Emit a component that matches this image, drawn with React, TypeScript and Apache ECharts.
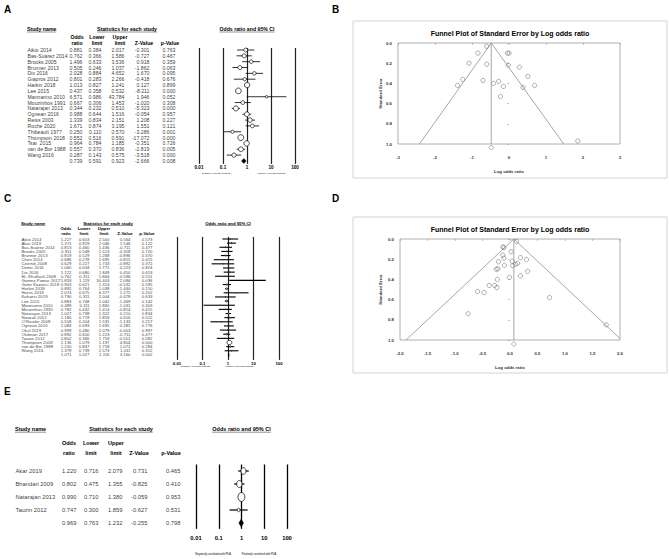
import React, { useEffect, useRef } from "react";
import * as echarts from "echarts";

const FONT = "'Liberation Sans', Arial, Helvetica, sans-serif";

// ---------------- Panel A (forest) ----------------
const studiesA = ["Aikio 2014", "Bas-Suárez 2014", "Brooks 2005", "Brunner 2013", "Dix 2016", "Giapros 2012", "Harkin 2018", "Lee 2015", "Mannarino 2010", "Mouzinhos 1991", "Natarajan 2013", "Ognean 2016", "Reiss 2003", "Roche 2020", "Thibeault 1977", "Thompson 2018", "Tsai  2015", "van de Bor 1988", "Wang 2016"];
const oddsA = [0.881, 0.762, 1.496, 0.505, 2.028, 0.801, 1.013, 0.437, 6.571, 0.667, 0.344, 0.988, 1.339, 1.671, 0.25, 0.552, 0.964, 0.557, 0.287];
const lowerA = [0.384, 0.366, 0.633, 0.246, 0.884, 0.283, 0.827, 0.358, 0.986, 0.306, 0.232, 0.644, 0.834, 0.874, 0.11, 0.516, 0.784, 0.37, 0.143];
const upperA = [2.017, 1.586, 3.536, 1.037, 4.652, 2.266, 1.241, 0.532, 43.784, 1.453, 0.51, 1.516, 2.151, 3.195, 0.57, 0.591, 1.185, 0.836, 0.575];
const zA = [-0.301, -0.727, 0.918, -1.862, 1.67, -0.418, 0.127, -8.211, 1.946, -1.02, -5.323, -0.054, 1.208, 1.551, -3.286, -17.072, -0.351, -2.819, -3.518];
const pA = [0.763, 0.467, 0.359, 0.063, 0.095, 0.676, 0.899, 0.0, 0.052, 0.308, 0.0, 0.957, 0.227, 0.121, 0.001, 0.0, 0.726, 0.005, 0.0];
const weightA = [4, 4.5, 3.5, 4.5, 3.5, 3, 8, 9, 1.8, 4, 7, 6.5, 5.5, 4, 3, 9.5, 8, 6.5, 5];
const summaryA = [0.739, 0.591, 0.923, -2.666, 0.008];

// ---------------- Panel C (forest) ----------------
const studiesC = ["Aikio 2014", "Akar 2019", "Bas-Suárez 2014", "Brooks 2005", "Brunner 2013", "Chen 2014", "Czernik 2008", "Demir 2016", "Dix 2016", "EL-Khuffash 2008", "Gomez-Pomar 2017", "Guler Kazanci 2019", "Harkin 2018", "Harris 2019", "Kahveci 2019", "Lee 2015", "Mannarino 2010", "Mouzinhos 1991", "Natarajan 2013", "Nizarali 2012", "O'Rourke 2008", "Ognean 2016", "Okul 2019", "Oluknan 2017", "Tauzin 2012", "Thompson 2018", "van de Bor 1988", "Wang 2016"];
const oddsC = [1.227, 1.371, 0.813, 0.911, 0.819, 0.686, 0.629, 1.06, 1.122, 0.762, 5.833, 0.903, 0.892, 2.074, 0.79, 0.883, 0.489, 0.782, 1.027, 1.18, 0.558, 1.084, 0.999, 0.892, 0.802, 1.136, 1.22, 1.379];
const lowerC = [0.603, 0.919, 0.46, 0.548, 0.529, 0.278, 0.227, 0.634, 0.68, 0.311, 1.119, 0.621, 0.764, 0.675, 0.311, 0.748, 0.111, 0.432, 0.798, 0.719, 0.204, 0.693, 0.48, 0.65, 0.366, 1.079, 0.847, 0.739];
const upperC = [2.5, 2.046, 1.436, 1.513, 1.268, 1.695, 1.743, 1.771, 1.849, 1.864, 30.403, 1.314, 1.038, 6.377, 2.004, 1.042, 1.86, 1.414, 1.322, 1.859, 1.531, 1.695, 2.079, 1.223, 1.759, 1.197, 1.758, 2.573];
const zC = [0.564, 1.546, -0.711, -0.358, -0.896, -0.815, -0.892, 0.223, 0.45, -0.596, 2.094, -0.532, -1.44, 1.275, -0.478, -1.469, -1.031, -0.814, 0.21, 0.656, -1.133, 0.285, -0.003, -0.711, -0.551, 4.804, 1.071, 1.011];
const pC = [0.573, 0.122, 0.477, 0.72, 0.37, 0.415, 0.372, 0.824, 0.653, 0.551, 0.036, 0.595, 0.15, 0.202, 0.633, 0.142, 0.303, 0.415, 0.834, 0.512, 0.257, 0.776, 0.997, 0.477, 0.582, 0.0, 0.284, 0.312];
const weightC = [1.5, 3, 2, 2.5, 3, 1, 1, 2.5, 2.5, 1, 0.3, 4, 6, 0.5, 1, 7, 0.4, 2, 4, 2.5, 0.8, 3, 1.5, 4.5, 1.2, 40, 4, 1.6];
const summaryC = [1.071, 1.027, 1.116, 3.16, 0.002];

// ---------------- Panel E (forest) ----------------
const studiesE = ["Akar 2019", "Bhandari 2009", "Natarajan 2013", "Tauzin 2012"];
const oddsE = [1.22, 0.802, 0.99, 0.747];
const lowerE = [0.716, 0.475, 0.71, 0.3];
const upperE = [2.079, 1.355, 1.38, 1.859];
const zE = [0.731, -0.825, -0.059, -0.627];
const pE = [0.465, 0.41, 0.953, 0.531];
const weightE = [24, 26, 44, 7];
const summaryE = [0.969, 0.763, 1.232, -0.255, 0.798];

// ---------------- Funnel B ----------------
const funnelBLogOR = [-0.6, -0.84, -1.08, -0.6, -0.04, 0.0, -0.02, 0.28, 0.51, -1.25, -1.39, -0.7, -0.42, -0.28, -0.15, 0.38, 0.69, -0.23, 1.86];
const funnelBSE = [0.033, 0.1, 0.2, 0.21, 0.1, 0.1, 0.22, 0.24, 0.33, 0.36, 0.42, 0.37, 0.4, 0.38, 0.43, 0.44, 0.42, 0.53, 0.97];
const funnelBLine = [[-2.42, 1.0], [-0.48, 0.0], [1.48, 1.0]];
const funnelBCenter = [[-0.48, 0.0], [-0.48, 1.0]];
const funnelBDiamond = [-0.48, 1.035];

// ---------------- Funnel D ----------------
const funnelDLogOR = [0.12, -0.13, -0.11, 0.02, -0.13, -0.11, -0.21, 0.19, 0.3, 0.04, 0.14, 0.1, 0.05, -0.1, -0.22, -0.25, 0.32, -0.01, 0.19, -0.23, -0.38, -0.28, -0.24, -0.59, -0.47, 0.72, -0.76, 1.75];
const funnelDSE = [0.025, 0.078, 0.085, 0.126, 0.16, 0.19, 0.225, 0.185, 0.205, 0.22, 0.24, 0.25, 0.265, 0.26, 0.295, 0.3, 0.32, 0.38, 0.365, 0.4, 0.46, 0.46, 0.48, 0.52, 0.53, 0.58, 0.74, 0.85];
const funnelDLine = [[-1.89, 1.0], [0.07, 0.0], [2.0, 0.985]];
const funnelDCenter = [[0.07, 0.0], [0.07, 1.0]];
const funnelDDiamond = [0.07, 1.04];

const forestTicks = ["0.01", "0.1", "1", "10", "100"];

function measure(text: string, font: string) {
  const ctx = document.createElement("canvas").getContext("2d")!;
  ctx.font = font;
  return ctx.measureText(text).width;
}

function buildOption() {
  const grids: any[] = [];
  const xAxes: any[] = [];
  const yAxes: any[] = [];
  const series: any[] = [];
  const graphics: any[] = [];

  const text = (x: number, y: number, t: string, o: any = {}) => {
    const size = o.size ?? 5;
    const fam = o.family ?? FONT;
    const weight = o.bold ? "bold" : "normal";
    const align = o.align ?? "left";
    graphics.push({
      type: "text", x, y, silent: true,
      style: { text: t, fill: o.color ?? "#000", fontSize: size, fontFamily: fam, fontWeight: weight, textAlign: align, align, textVerticalAlign: "middle", verticalAlign: "middle" },
    });
    if (o.underline) {
      const w = measure(t, `${weight} ${size}px ${fam}`);
      const x0 = align === "center" ? x - w / 2 : align === "right" ? x - w : x;
      const uy = y + size * 0.58;
      graphics.push({ type: "line", silent: true, shape: { x1: x0, y1: uy, x2: x0 + w, y2: uy }, style: { stroke: "#000", lineWidth: Math.max(0.4, size * 0.08) } });
    }
  };

  function addForest(cfg: any) {
    const n = cfg.names.length;
    const top = cfg.rowY0 + cfg.yMin * cfg.rowStep;
    const height = (cfg.yMax - cfg.yMin) * cfg.rowStep;
    const lbl = { fontSize: cfg.fs, fontFamily: cfg.family, color: "#000" };

    const gT = grids.length;
    grids.push({ left: 0, top, width: 669, height, outerBoundsMode: "none" });
    xAxes.push({ gridIndex: gT, type: "value", min: 0, max: 669, show: false });
    yAxes.push({ gridIndex: gT, type: "value", min: cfg.yMin, max: cfg.yMax, inverse: true, show: false });
    const scat = (data: any[], position: string) => ({
      type: "scatter", xAxisIndex: gT, yAxisIndex: gT, silent: true, symbolSize: 1,
      itemStyle: { color: "rgba(0,0,0,0)" }, data,
      label: { show: true, position, distance: 0, formatter: "{b}", ...lbl },
    });
    series.push(scat(cfg.names.map((nm: string, i: number) => ({ name: nm, value: [cfg.nameX, i] })), "right"));
    [cfg.or, cfg.lo, cfg.hi, cfg.z, cfg.p].forEach((arr: number[], ci: number) => {
      const all = [...arr, cfg.sum[ci]];
      series.push(scat(all.map((v, i) => ({ name: v.toFixed(3), value: [cfg.colRight[ci], i] })), "left"));
    });

    const gF = grids.length;
    grids.push({ left: cfg.fLeft, top, width: cfg.fRight - cfg.fLeft, height, outerBoundsMode: "none" });
    xAxes.push({
      gridIndex: gF, type: "log", logBase: 10, min: 0.01, max: 100,
      axisLine: { show: false }, axisTick: { show: false },
      splitLine: { show: true, lineStyle: { color: cfg.vColor, width: cfg.vWidth } },
      axisLabel: {
        show: true, fontSize: cfg.tickFs, fontWeight: "bold", fontFamily: cfg.family, color: "#000", margin: cfg.tickMargin,
        formatter: (v: number) => forestTicks[Math.round(Math.log10(v)) + 2] ?? "",
      },
    });
    yAxes.push({ gridIndex: gF, type: "value", min: cfg.yMin, max: cfg.yMax, inverse: true, show: false });
    const data = cfg.or.map((v: number, i: number) => [v, i, cfg.lo[i], cfg.hi[i], cfg.w[i], 0]);
    data.push([cfg.sum[0], n, cfg.sum[1], cfg.sum[2], 0, 1]);
    series.push({
      type: "custom", xAxisIndex: gF, yAxisIndex: gF, silent: true, clip: false,
      encode: { x: [0, 2, 3], y: 1 }, data,
      renderItem: (params: any, api: any) => {
        const row = api.value(1);
        const c = api.coord([api.value(0), row]);
        const l = api.coord([api.value(2), row]);
        const h = api.coord([api.value(3), row]);
        if (api.value(5)) {
          const dh = cfg.diamondH / 2;
          return { type: "polygon", shape: { points: [[l[0], c[1]], [c[0], c[1] - dh], [h[0], c[1]], [c[0], c[1] + dh]] }, style: { fill: "#000", stroke: "#000", lineWidth: 0.4 } };
        }
        const s = cfg.k * Math.sqrt(api.value(4));
        return {
          type: "group",
          children: [
            { type: "line", shape: { x1: l[0], y1: c[1], x2: h[0], y2: c[1] }, style: { stroke: "#000", lineWidth: cfg.ciWidth } },
            { type: "ellipse", shape: { cx: c[0], cy: c[1], rx: s / 2, ry: (s * cfg.ratio) / 2 }, style: { fill: "#fff", stroke: "#000", lineWidth: 0.7 } },
          ],
        };
      },
    });

    const hf = { size: cfg.hfs ?? cfg.fs, family: cfg.family, bold: true };
    text(cfg.nameX, cfg.headY, "Study name", { ...hf, underline: true });
    text(cfg.statX, cfg.headY, "Statistics for each study", { ...hf, align: "center", underline: true });
    text((cfg.fLeft + cfg.fRight) / 2, cfg.headY, "Odds ratio and 95% CI", { ...hf, align: "center", underline: true });
    const h1 = ["Odds", "Lower", "Upper"];
    const h2 = ["ratio", "limit", "limit", "Z-Value", "p-Value"];
    h1.forEach((t, i) => text(cfg.colHead[i], cfg.h1Y, t, { ...hf, align: "center" }));
    h2.forEach((t, i) => text(cfg.colHead[i], cfg.h2Y, t, { ...hf, align: "center" }));
    text(cfg.negX, cfg.subY, "Negatively correlated with PDA", { size: cfg.subFs, family: cfg.family, align: "center" });
    text(cfg.posX, cfg.subY, "Positively correlated with PDA", { size: cfg.subFs, family: cfg.family, align: "center" });
  }

  function addFunnel(cfg: any) {
    graphics.push({ type: "rect", silent: true, shape: { x: cfg.frame[0], y: cfg.frame[1], width: cfg.frame[2], height: cfg.frame[3] }, style: { fill: "none", stroke: "#d4d4d4", lineWidth: 1 } });
    text(cfg.titleX, cfg.titleY, "Funnel Plot of Standard Error by Log odds ratio", { size: 7, bold: true, align: "center" });
    const g = grids.length;
    grids.push({ left: cfg.left, top: cfg.top, width: cfg.width, height: cfg.height, show: true, borderColor: "#9c9c9c", borderWidth: 0.8, backgroundColor: "transparent", outerBoundsMode: "none" });
    const lab = { fontSize: 4.3, fontWeight: "bold", fontFamily: FONT, color: "#333" };
    xAxes.push({
      gridIndex: g, type: "value", min: cfg.xMin, max: cfg.xMax, interval: cfg.xInt,
      axisLine: { show: false }, axisTick: { show: true, length: 2, lineStyle: { color: "#9c9c9c", width: 0.6 } },
      splitLine: { show: false },
      axisLabel: { ...lab, margin: cfg.xLabelMargin, formatter: (v: number) => (cfg.xDec ? v.toFixed(1) : String(v)) },
      name: "Log odds ratio", nameLocation: "middle", nameGap: cfg.xNameGap, nameTextStyle: lab,
    });
    yAxes.push({
      gridIndex: g, type: "value", min: 0, max: 1, interval: 0.2, inverse: true,
      axisLine: { show: false }, axisTick: { show: true, length: 2, lineStyle: { color: "#9c9c9c", width: 0.6 } },
      splitLine: { show: false },
      axisLabel: { ...lab, margin: cfg.yLabelMargin, formatter: (v: number) => v.toFixed(1) },
      name: "Standard Error", nameLocation: "middle", nameGap: cfg.yNameGap, nameRotate: 90, nameTextStyle: lab,
    });
    const ls = { color: "#8f8f8f", width: 0.8 };
    series.push({ type: "line", xAxisIndex: g, yAxisIndex: g, silent: true, symbol: "none", data: cfg.line, lineStyle: ls });
    series.push({ type: "line", xAxisIndex: g, yAxisIndex: g, silent: true, symbol: "none", data: cfg.center, lineStyle: ls });
    series.push({
      type: "scatter", xAxisIndex: g, yAxisIndex: g, silent: true, symbol: "circle", symbolSize: 4.3,
      itemStyle: { color: "rgba(255,255,255,0)", borderColor: "#6e6e6e", borderWidth: 0.7 },
      data: cfg.xs.map((x: number, i: number) => [x, cfg.ses[i]]),
    });
    series.push({
      type: "scatter", xAxisIndex: g, yAxisIndex: g, silent: true, clip: false, symbol: "diamond", symbolSize: [5, 5],
      itemStyle: { color: "rgba(255,255,255,0)", borderColor: "#6e6e6e", borderWidth: 0.7 },
      data: [cfg.diamond],
    });
  }

  text(4, 9, "A", { size: 10, bold: true });
  text(332, 9, "B", { size: 10, bold: true });
  text(4, 198, "C", { size: 10, bold: true });
  text(332, 198, "D", { size: 10, bold: true });
  text(4, 391, "E", { size: 10, bold: true });

  addForest({
    names: studiesA, or: oddsA, lo: lowerA, hi: upperA, z: zA, p: pA, w: weightA, sum: summaryA,
    rowY0: 50, rowStep: 5.84, yMin: -0.34, yMax: 19.5,
    nameX: 27, colRight: [83, 102, 125, 150, 176], fs: 5.2, family: FONT,
    fLeft: 199, fRight: 295, vColor: "#222", vWidth: 1.2, tickFs: 4.6, tickMargin: 1.5,
    k: 1.9, ratio: 1, ciWidth: 0.8, diamondH: 5,
    headY: 29, statX: 127, colHead: [77, 97, 120, 144, 170], h1Y: 37, h2Y: 42.5,
    negX: 217, posX: 272, subY: 173, subFs: 2.2,
  });

  addForest({
    names: studiesC, or: oddsC, lo: lowerC, hi: upperC, z: zC, p: pC, w: weightC, sum: summaryC,
    rowY0: 239, rowStep: 4.14, yMin: -0.5, yMax: 29.2,
    nameX: 21, colRight: [72, 90, 110, 131, 153], fs: 4.3, family: FONT,
    fLeft: 177, fRight: 279, vColor: "#222", vWidth: 1.2, tickFs: 4.3, tickMargin: 1.5,
    k: 0.8, ratio: 0.85, ciWidth: 1.1, diamondH: 4,
    headY: 223, statX: 108, colHead: [66, 84, 104, 125, 147], h1Y: 228, h2Y: 233,
    negX: 196, posX: 240, subY: 366, subFs: 2.2,
  });

  addForest({
    names: studiesE, or: oddsE, lo: lowerE, hi: upperE, z: zE, p: pE, w: weightE, sum: summaryE,
    rowY0: 471, rowStep: 13, yMin: -0.5, yMax: 4.45,
    nameX: 15, colRight: [77, 99, 123, 148, 181], fs: 5.8, hfs: 5.5, family: FONT,
    fLeft: 196, fRight: 287, vColor: "#000", vWidth: 1.3, tickFs: 5.8, tickMargin: 6,
    k: 1.05, ratio: 1.3, ciWidth: 1.2, diamondH: 8,
    headY: 429, statX: 121, colHead: [69, 91, 116, 139, 171], h1Y: 443, h2Y: 453,
    negX: 213, posX: 259, subY: 554, subFs: 2.6,
  });

  addFunnel({
    frame: [353, 21, 314, 157], titleX: 510, titleY: 33,
    left: 398, top: 43, width: 222, height: 101,
    xMin: -3, xMax: 3, xInt: 1, xDec: false, xLabelMargin: 11, xNameGap: 25, yLabelMargin: 6, yNameGap: 16,
    line: funnelBLine, center: funnelBCenter, xs: funnelBLogOR, ses: funnelBSE, diamond: funnelBDiamond,
  });

  addFunnel({
    frame: [353, 217, 314, 156], titleX: 510, titleY: 229,
    left: 400, top: 239, width: 220, height: 101,
    xMin: -2, xMax: 2, xInt: 0.5, xDec: true, xLabelMargin: 11, xNameGap: 25, yLabelMargin: 6, yNameGap: 18,
    line: funnelDLine, center: funnelDCenter, xs: funnelDLogOR, ses: funnelDSE, diamond: funnelDDiamond,
  });

  return {
    animation: false,
    backgroundColor: "#fff",
    grid: grids,
    xAxis: xAxes,
    yAxis: yAxes,
    series,
    graphic: { elements: graphics },
  };
}

export default function App() {
  const ref = useRef<HTMLDivElement>(null);
  useEffect(() => {
    const chart = echarts.init(ref.current!, null, { renderer: "svg", width: 669, height: 559 });
    chart.setOption(buildOption() as any);
    return () => chart.dispose();
  }, []);
  return <div ref={ref} style={{ position: "absolute", left: 0, top: 0, width: 669, height: 559, background: "#fff" }} />;
}
